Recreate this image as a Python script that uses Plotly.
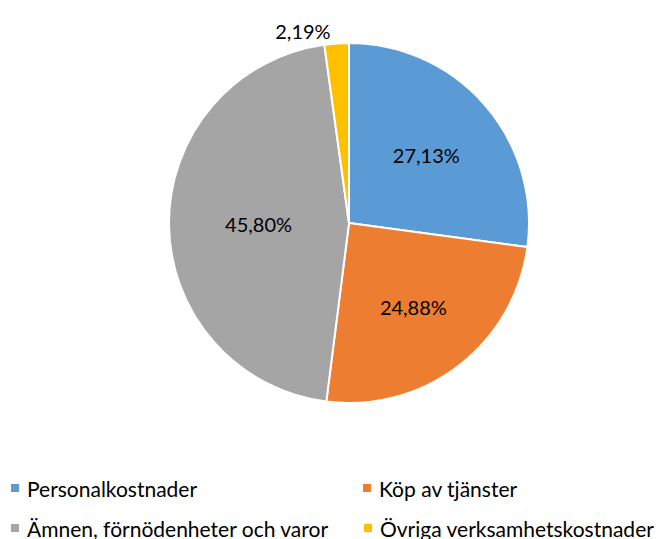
import plotly.graph_objects as go

categories = ["Personalkostnader", "Köp av tjänster", "Ämnen, förnödenheter och varor", "Övriga verksamhetskostnader"]
values = [27.13, 24.88, 45.80, 2.19]
colors = ["#5B9BD5", "#ED7D31", "#A5A5A5", "#FFC000"]
text_positions = ["inside", "inside", "inside", "outside"]

W, H = 670, 539
OFF = 8  # page body margin
FONT = "Lato, Open Sans, sans-serif"

cx, cy, R = 349 - OFF, 223 - OFF, 180

fig = go.Figure()
fig.add_trace(go.Pie(
    labels=categories,
    values=values,
    sort=False,
    direction="clockwise",
    rotation=0,
    marker=dict(colors=colors, line=dict(color="white", width=2)),
    texttemplate="%{percent:.2%}",
    textposition=text_positions,
    insidetextorientation="horizontal",
    textfont=dict(family=FONT, size=20, color="black"),
    domain=dict(x=[(cx - R) / W, (cx + R) / W], y=[1 - (cy + R) / H, 1 - (cy - R) / H]),
    showlegend=False,
    hoverinfo="label+percent",
))

# Legend drawn as squares + text (2 columns x 2 rows)
legend_pos = [(11, 488), (363, 488), (11, 528), (364, 528)]
shapes = []
annotations = []
for (x, y), name, col in zip(legend_pos, categories, colors):
    x -= OFF
    y -= OFF
    shapes.append(dict(type="rect", xref="paper", yref="paper",
                       x0=x / W, x1=(x + 8) / W, y0=1 - (y + 4) / H, y1=1 - (y - 4) / H,
                       fillcolor=col, line=dict(width=0)))
    annotations.append(dict(text=name, xref="paper", yref="paper",
                            x=(x + 14) / W, y=1 - y / H, xanchor="left", yanchor="middle",
                            showarrow=False, font=dict(family=FONT, size=21, color="black")))

fig.update_layout(
    width=W, height=H,
    margin=dict(l=0, r=0, t=0, b=0),
    paper_bgcolor="white", plot_bgcolor="white",
    separators=", ",
    shapes=shapes,
    annotations=annotations,
)

fig.write_html("out.html")
